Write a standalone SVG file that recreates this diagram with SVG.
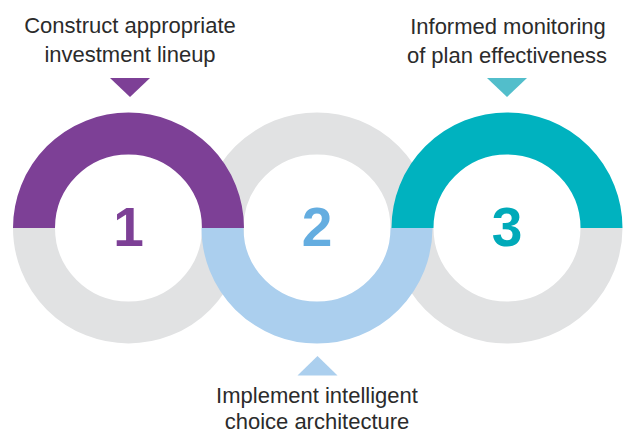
<svg xmlns="http://www.w3.org/2000/svg" width="623" height="434" viewBox="0 0 623 434">
<style>
.ring{fill:none;stroke-width:42;stroke-linecap:butt}
.gray{stroke:#E1E2E3}
.lbl{font-family:"Liberation Sans",Arial,sans-serif;font-size:22px;fill:#2B2B2B;text-anchor:middle}
.num{font-family:"Liberation Sans",Arial,sans-serif;font-size:55px;font-weight:bold;text-anchor:middle}
</style>
<rect width="623" height="434" fill="#FFFFFF"/>
<g id="background-halves">
<path class="ring gray" d="M34,228 A94.5,94.5 0 0 0 223,228"/>
<path class="ring gray" d="M222.5,228 A94.5,94.5 0 0 1 411.5,228"/>
<path class="ring gray" d="M412.5,228 A94.5,94.5 0 0 0 601.5,228"/>
</g>
<g id="connectors"></g>
<g id="node1">
<path class="ring" stroke="#7D4096" d="M34,228 A94.5,94.5 0 0 1 223,228"/>
<text class="num" x="128.5" y="246" fill="#7D4096">1</text>
<polygon points="110,78 150,78 130,97" fill="#7D4096"/>
<text class="lbl" x="130" y="33">Construct appropriate</text>
<text class="lbl" x="130" y="62">investment lineup</text>
</g>
<g id="node3">
<path class="ring" stroke="#00B2BF" d="M412.5,228 A94.5,94.5 0 0 1 601.5,228"/>
<text class="num" x="507" y="246" fill="#00AAB9">3</text>
<polygon points="487,78 527,78 507,97" fill="#52BECB"/>
<text class="lbl" x="508" y="34">Informed monitoring</text>
<text class="lbl" x="507" y="63">of plan effectiveness</text>
</g>
<g id="node2">
<path class="ring" stroke="#ABCFEE" d="M222.5,228 A94.5,94.5 0 0 0 411.5,228"/>
<text class="num" x="317" y="246" fill="#64ADE0">2</text>
<polygon points="297.5,375.5 337.5,375.5 317.5,356" fill="#ABCFEE"/>
<text class="lbl" x="317" y="403">Implement intelligent</text>
<text class="lbl" x="317" y="429">choice architecture</text>
</g>
</svg>
